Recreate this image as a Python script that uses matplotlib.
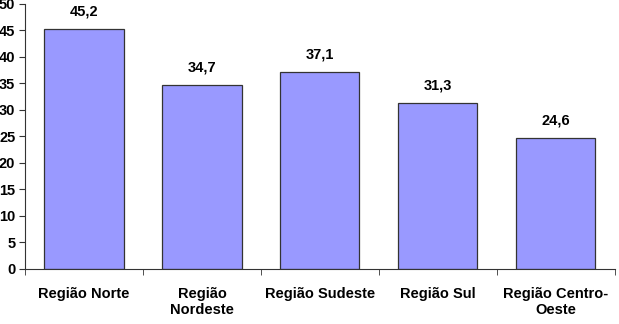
import numpy as np
import matplotlib.pyplot as plt

regioes = ['Região Norte', 'Região\nNordeste', 'Região Sudeste', 'Região Sul', 'Região Centro-\nOeste']
valores = [45.2, 34.7, 37.1, 31.3, 24.6]

plt.rcParams['font.family'] = ['Liberation Sans', 'DejaVu Sans']
plt.rcParams['font.weight'] = 'bold'

fig = plt.figure(figsize=(6.19, 3.24), dpi=100)
ax = fig.add_axes([0.0404, 0.170, 0.953, 0.819])

x = np.arange(len(regioes))
ax.bar(x, valores, width=0.67, color='#9999FF', edgecolor='#333333', linewidth=0.9)

for xi, v in zip(x, valores):
    ax.text(xi, v + 2, f'{v:.1f}'.replace('.', ','), ha='center', va='bottom',
            fontsize=10.5, fontweight='bold')

ax.set_xlim(-0.5, len(regioes) - 0.5)
ax.set_ylim(0, 50)
ax.set_yticks(range(0, 51, 5))
ax.set_xticks(x)
ax.set_xticklabels(regioes, fontsize=10.5, fontweight='bold', linespacing=1.2)
ax.set_xticks(np.arange(-0.5, len(regioes)), minor=True)
ax.tick_params(axis='x', which='major', length=0, pad=13)
ax.tick_params(axis='x', which='minor', length=4, color='#333333')
ax.tick_params(axis='y', length=4, color='#333333', labelsize=10.5, pad=3)

for s in ['top', 'right']:
    ax.spines[s].set_visible(False)
for s in ['left', 'bottom']:
    ax.spines[s].set_color('#333333')

fig.savefig('out.png', dpi=100)
